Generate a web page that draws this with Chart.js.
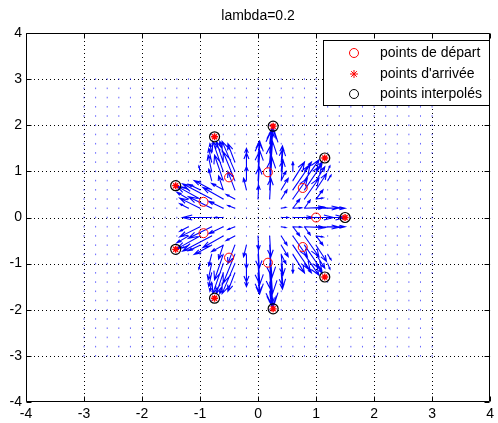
<!DOCTYPE html>
<html>
<head>
<meta charset="utf-8">
<script src="https://cdn.jsdelivr.net/npm/chart.js@4.4.1/dist/chart.umd.min.js"></script>
<style>
  html, body { margin: 0; padding: 0; background: #fff; }
  canvas { display: block; }
</style>
</head>
<body>
<canvas id="quiver" width="498" height="423"></canvas>
<script>
const FONT = '"Liberation Sans", Arial, Helvetica, sans-serif';

const titleText = 'lambda=0.2';
const legendLabels = ['points de départ', "points d'arrivée", 'points interpolés'];
const axisTicks = [-4, -3, -2, -1, 0, 1, 2, 3, 4];

// sampling grid of the displacement field
const gridSteps = [-3, -2.8, -2.6, -2.4, -2.2, -2, -1.8, -1.6, -1.4, -1.2, -1, -0.8, -0.6, -0.4, -0.2,
    0, 0.2, 0.4, 0.6, 0.8, 1, 1.2, 1.4, 1.6, 1.8, 2, 2.2, 2.4, 2.6, 2.8, 3];

// control points
const startX = [1, 0.77, 0.17, -0.5, -0.94, -0.94, -0.5, 0.17, 0.77];
const startY = [0, 0.64, 0.98, 0.87, 0.34, -0.34, -0.87, -0.98, -0.64];
const endX = [1.5, 1.15, 0.26, -0.75, -1.42, -1.42, -0.75, 0.26, 1.15];
const endY = [0, 1.29, 1.98, 1.75, 0.69, -0.69, -1.75, -1.98, -1.29];

// non-negligible field vectors, [x, y, u, v], grouped by fan
const fanE = [
    [0.4, 0, 0.12, 0], [0.6, 0, 0.35, 0], [0.8, 0, 0.5, 0], [1.0, 0, 0.5, 0], [1.2, 0, 0.3, 0],
    [0.6, 0.2, 0.15, 0.01], [0.8, 0.2, 0.35, 0.02], [1.0, 0.2, 0.4, 0.01], [1.2, 0.2, 0.3, 0],
    [0.6, -0.2, 0.15, -0.01], [0.8, -0.2, 0.35, -0.02], [1.0, -0.2, 0.4, -0.01], [1.2, -0.2, 0.3, 0],
    [1.0, 0.4, 0.12, 0.02], [1.0, -0.4, 0.12, -0.02], [0.4, 0.2, 0.08, 0.02], [0.4, -0.2, 0.08, -0.02],
];
const fanNE = [
    [0.4, 0.4, 0.1, 0.2], [0.4, 0.6, 0.12, 0.25], [0.4, 0.8, 0.08, 0.2],
    [0.6, 0.2, 0.12, 0.2], [0.6, 0.4, 0.25, 0.45], [0.6, 0.6, 0.3, 0.55], [0.6, 0.8, 0.2, 0.4],
    [0.8, 0.2, 0.1, 0.18], [0.8, 0.4, 0.25, 0.45], [0.8, 0.6, 0.3, 0.55], [0.8, 0.8, 0.25, 0.45], [0.8, 1.0, 0.12, 0.2],
    [1.0, 0.4, 0.12, 0.2], [1.0, 0.6, 0.18, 0.35], [1.0, 0.8, 0.15, 0.3], [1.0, 1.0, 0.1, 0.2], [1.2, 0.8, 0.06, 0.12],
    [1.2, 1.0, 0.04, 0.12],
];
const fanSE = [
    [0.4, -0.4, 0.1, -0.2], [0.4, -0.6, 0.12, -0.25], [0.4, -0.8, 0.08, -0.2],
    [0.6, -0.2, 0.12, -0.2], [0.6, -0.4, 0.25, -0.45], [0.6, -0.6, 0.3, -0.55], [0.6, -0.8, 0.2, -0.4],
    [0.8, -0.2, 0.1, -0.18], [0.8, -0.4, 0.25, -0.45], [0.8, -0.6, 0.3, -0.55], [0.8, -0.8, 0.25, -0.45], [0.8, -1.0, 0.12, -0.2],
    [1.0, -0.4, 0.12, -0.2], [1.0, -0.6, 0.18, -0.35], [1.0, -0.8, 0.15, -0.3], [1.0, -1.0, 0.1, -0.2], [1.2, -0.8, 0.06, -0.12],
    [1.2, -1.0, 0.04, -0.12],
];
const fanN = [
    [0.2, 0.4, 0.02, 0.45], [0.2, 0.6, 0.04, 0.7], [0.2, 0.8, 0.05, 0.85], [0.2, 1.0, 0.06, 0.95], [0.2, 1.2, 0.05, 0.75], [0.2, 1.4, 0.04, 0.5],
    [0.2, 1.6, 0.03, 0.3],
    [0.0, 0.4, 0.01, 0.3], [0.0, 0.6, 0.02, 0.5], [0.0, 0.8, 0.03, 0.65], [0.0, 1.0, 0.03, 0.65], [0.0, 1.2, 0.02, 0.45],
    [0.4, 0.8, 0.03, 0.45], [0.4, 1.0, 0.03, 0.5], [0.4, 1.2, 0.02, 0.35],
    [-0.2, 0.8, 0, 0.3], [-0.2, 1.0, 0, 0.4], [-0.2, 1.2, 0, 0.3], [0.6, 1.0, 0, 0.2],
];
const fanS = [
    [0.2, -0.4, 0.02, -0.45], [0.2, -0.6, 0.04, -0.7], [0.2, -0.8, 0.05, -0.85], [0.2, -1.0, 0.06, -0.95], [0.2, -1.2, 0.05, -0.75], [0.2, -1.4, 0.04, -0.5],
    [0.2, -1.6, 0.03, -0.3],
    [0.0, -0.4, 0.01, -0.3], [0.0, -0.6, 0.02, -0.5], [0.0, -0.8, 0.03, -0.65], [0.0, -1.0, 0.03, -0.65], [0.0, -1.2, 0.02, -0.45],
    [0.4, -0.8, 0.03, -0.45], [0.4, -1.0, 0.03, -0.5], [0.4, -1.2, 0.02, -0.35],
    [-0.2, -0.8, 0, -0.3], [-0.2, -1.0, 0, -0.4], [-0.2, -1.2, 0, -0.3], [0.6, -1.0, 0, -0.2],
];
const fanNW = [
    [-0.2, 0.6, -0.05, 0.25],
    [-0.4, 0.6, -0.12, 0.4], [-0.4, 0.8, -0.2, 0.62], [-0.4, 1.0, -0.22, 0.65], [-0.4, 1.2, -0.12, 0.4],
    [-0.6, 0.6, -0.08, 0.3], [-0.6, 0.8, -0.15, 0.55], [-0.6, 1.0, -0.18, 0.65], [-0.6, 1.2, -0.12, 0.45], [-0.6, 1.4, -0.06, 0.25],
    [-0.8, 0.8, -0.05, 0.25], [-0.8, 1.0, -0.06, 0.35], [-0.8, 1.2, -0.05, 0.3], [-1.0, 1.0, -0.02, 0.12],
    [-0.8, 1.4, -0.03, 0.2],
];
const fanSW = [
    [-0.2, -0.6, -0.05, -0.25],
    [-0.4, -0.6, -0.12, -0.4], [-0.4, -0.8, -0.2, -0.62], [-0.4, -1.0, -0.22, -0.65], [-0.4, -1.2, -0.12, -0.4],
    [-0.6, -0.6, -0.08, -0.3], [-0.6, -0.8, -0.15, -0.55], [-0.6, -1.0, -0.18, -0.65], [-0.6, -1.2, -0.12, -0.45], [-0.6, -1.4, -0.06, -0.25],
    [-0.8, -0.8, -0.05, -0.25], [-0.8, -1.0, -0.06, -0.35], [-0.8, -1.2, -0.05, -0.3], [-1.0, -1.0, -0.02, -0.12],
    [-0.8, -1.4, -0.03, -0.2],
];
const fanWNW = [
    [-0.4, 0.2, -0.12, 0.06], [-0.4, 0.4, -0.15, 0.1],
    [-0.6, 0.2, -0.25, 0.15], [-0.6, 0.4, -0.35, 0.25], [-0.6, 0.6, -0.2, 0.14],
    [-0.8, 0.2, -0.4, 0.25], [-0.8, 0.4, -0.5, 0.33], [-0.8, 0.6, -0.3, 0.2],
    [-1.0, 0.2, -0.35, 0.22], [-1.0, 0.4, -0.4, 0.28], [-1.0, 0.6, -0.2, 0.12],
    [-1.2, 0.2, -0.15, 0.1], [-1.2, 0.4, -0.2, 0.15], [-1.2, 0.6, -0.1, 0.06],
];
const fanWSW = [
    [-0.4, -0.2, -0.12, -0.06], [-0.4, -0.4, -0.15, -0.1],
    [-0.6, -0.2, -0.25, -0.15], [-0.6, -0.4, -0.35, -0.25], [-0.6, -0.6, -0.2, -0.14],
    [-0.8, -0.2, -0.4, -0.25], [-0.8, -0.4, -0.5, -0.33], [-0.8, -0.6, -0.3, -0.2],
    [-1.0, -0.2, -0.35, -0.22], [-1.0, -0.4, -0.4, -0.28], [-1.0, -0.6, -0.2, -0.12],
    [-1.2, -0.2, -0.15, -0.1], [-1.2, -0.4, -0.2, -0.15], [-1.2, -0.6, -0.1, -0.06],
];
const fanW = [
    [-0.6, 0, -0.15, 0], [-0.8, 0, -0.5, 0], [-1.0, 0, -0.3, 0],
];

const arrows = [...fanE, ...fanNE, ...fanSE, ...fanN, ...fanS, ...fanNW, ...fanSW, ...fanWNW, ...fanWSW, ...fanW];

const gridPoints = [];
for (const gx of gridSteps) for (const gy of gridSteps) gridPoints.push({ x: gx, y: gy });
const startPts = startX.map((x, i) => ({ x, y: startY[i] }));
const endPts = endX.map((x, i) => ({ x, y: endY[i] }));

// dotted grid under the data
const gridPlugin = {
    id: 'dottedGrid',
    beforeDatasetsDraw(c) {
        const { ctx, chartArea: a, scales } = c;
        ctx.save();
        ctx.strokeStyle = '#000';
        ctx.lineWidth = 1;
        ctx.setLineDash([1, 3]);
        ctx.beginPath();
        for (const t of axisTicks) {
            const px = Math.round(scales.x.getPixelForValue(t)) + 0.5;
            const py = Math.round(scales.y.getPixelForValue(t)) + 0.5;
            if (t > -4 && t < 4) {
                ctx.moveTo(px, a.top); ctx.lineTo(px, a.bottom);
                ctx.moveTo(a.left, py); ctx.lineTo(a.right, py);
            }
        }
        ctx.stroke();
        ctx.restore();
    },
};

// arrows with matlab-style heads (head size 0.33 of the vector)
const quiverPlugin = {
    id: 'quiverArrows',
    beforeDatasetsDraw(c) {
        const { ctx, scales } = c;
        const px = (v) => scales.x.getPixelForValue(v);
        const py = (v) => scales.y.getPixelForValue(v);
        const alpha = 0.33, beta = 0.33;
        ctx.save();
        ctx.strokeStyle = '#0000ff';
        ctx.lineWidth = 1.1;
        ctx.beginPath();
        for (const [x0, y0, u, v] of arrows) {
            const x1 = x0 + u, y1 = y0 + v;
            ctx.moveTo(px(x0), py(y0));
            ctx.lineTo(px(x1), py(y1));
            ctx.moveTo(px(x1 - alpha * (u + beta * v)), py(y1 - alpha * (v - beta * u)));
            ctx.lineTo(px(x1), py(y1));
            ctx.lineTo(px(x1 - alpha * (u - beta * v)), py(y1 - alpha * (v + beta * u)));
        }
        ctx.stroke();
        ctx.restore();
    },
};

// box, inner tick marks, title and legend
const framePlugin = {
    id: 'frameLegend',
    afterDraw(c) {
        const { ctx, chartArea: a, scales } = c;
        ctx.save();
        ctx.strokeStyle = '#000';
        ctx.lineWidth = 1;
        ctx.beginPath();
        const L = Math.round(a.left) + 0.5, R = Math.round(a.right) - 0.5;
        const T = Math.round(a.top) + 0.5, B = Math.round(a.bottom) - 0.5;
        ctx.rect(L, T, R - L, B - T);
        for (const t of axisTicks) {
            const x = Math.round(scales.x.getPixelForValue(t)) + 0.5;
            const y = Math.round(scales.y.getPixelForValue(t)) + 0.5;
            ctx.moveTo(x, B); ctx.lineTo(x, B - 5);
            ctx.moveTo(x, T); ctx.lineTo(x, T + 5);
            ctx.moveTo(L, y); ctx.lineTo(L + 5, y);
            ctx.moveTo(R, y); ctx.lineTo(R - 5, y);
        }
        ctx.stroke();

        ctx.fillStyle = '#000';
        ctx.font = '14px ' + FONT;
        ctx.textAlign = 'center';
        ctx.textBaseline = 'middle';
        ctx.fillText(titleText, (a.left + a.right) / 2, 16);

        // legend box
        const bx = 323.5, by = 40.5, bw = 166, bh = 65;
        ctx.fillStyle = '#fff';
        ctx.fillRect(bx, by, bw, bh);
        ctx.strokeRect(bx, by, bw, bh);
        const rows = [53, 74, 94];
        const mx = 354;
        ctx.lineWidth = 1;
        ctx.strokeStyle = '#ff0000';
        ctx.beginPath();
        ctx.arc(mx, rows[0], 4.5, 0, Math.PI * 2);
        ctx.stroke();
        ctx.beginPath();
        const r = 4;
        ctx.moveTo(mx - r, rows[1]); ctx.lineTo(mx + r, rows[1]);
        ctx.moveTo(mx, rows[1] - r); ctx.lineTo(mx, rows[1] + r);
        const d = r * 0.7071;
        ctx.moveTo(mx - d, rows[1] - d); ctx.lineTo(mx + d, rows[1] + d);
        ctx.moveTo(mx - d, rows[1] + d); ctx.lineTo(mx + d, rows[1] - d);
        ctx.stroke();
        ctx.strokeStyle = '#000';
        ctx.beginPath();
        ctx.arc(mx, rows[2], 4.5, 0, Math.PI * 2);
        ctx.stroke();

        ctx.fillStyle = '#000';
        ctx.textAlign = 'left';
        legendLabels.forEach((s, i) => ctx.fillText(s, 380, rows[i]));
        ctx.restore();
    },
};

const tickFont = { family: FONT, size: 14 };

new Chart(document.getElementById('quiver'), {
    type: 'scatter',
    data: {
        datasets: [
            {
                label: 'grid',
                data: gridPoints,
                pointStyle: 'line',
                rotation: 90,
                radius: 0.8,
                borderColor: 'rgba(0,0,255,0.6)',
                borderWidth: 1,
                order: 5,
            },
            {
                label: legendLabels[0],
                data: startPts,
                pointStyle: 'circle',
                radius: 4.5,
                borderColor: '#ff0000',
                backgroundColor: 'rgba(0,0,0,0)',
                borderWidth: 1,
                order: 3,
            },
            {
                label: legendLabels[2],
                data: endPts,
                pointStyle: 'circle',
                radius: 5,
                borderColor: '#000000',
                backgroundColor: 'rgba(0,0,0,0)',
                borderWidth: 1.2,
                order: 2,
            },
            {
                label: legendLabels[1],
                data: endPts,
                pointStyle: 'star',
                radius: 3.5,
                borderColor: '#ff0000',
                borderWidth: 1.4,
                order: 1,
            },
        ],
    },
    options: {
        responsive: false,
        animation: false,
        devicePixelRatio: 1,
        events: [],
        layout: { padding: { top: 33, right: 3, left: 0, bottom: 0 } },
        plugins: { legend: { display: false }, tooltip: { enabled: false }, title: { display: false } },
        scales: {
            x: {
                type: 'linear',
                min: -4,
                max: 4,
                afterFit(s) { s.height = 21; },
                afterBuildTicks(s) { s.ticks = axisTicks.map((value) => ({ value })); },
                grid: { display: false, drawTicks: false },
                border: { display: false },
                ticks: { color: '#000', font: tickFont, padding: 4, maxRotation: 0, autoSkip: false },
            },
            y: {
                type: 'linear',
                min: -4,
                max: 4,
                afterFit(s) { s.width = 26; },
                afterBuildTicks(s) { s.ticks = axisTicks.map((value) => ({ value })); },
                grid: { display: false, drawTicks: false },
                border: { display: false },
                ticks: { color: '#000', font: tickFont, padding: 4, autoSkip: false },
            },
        },
    },
    plugins: [gridPlugin, quiverPlugin, framePlugin],
});
</script>
</body>
</html>
